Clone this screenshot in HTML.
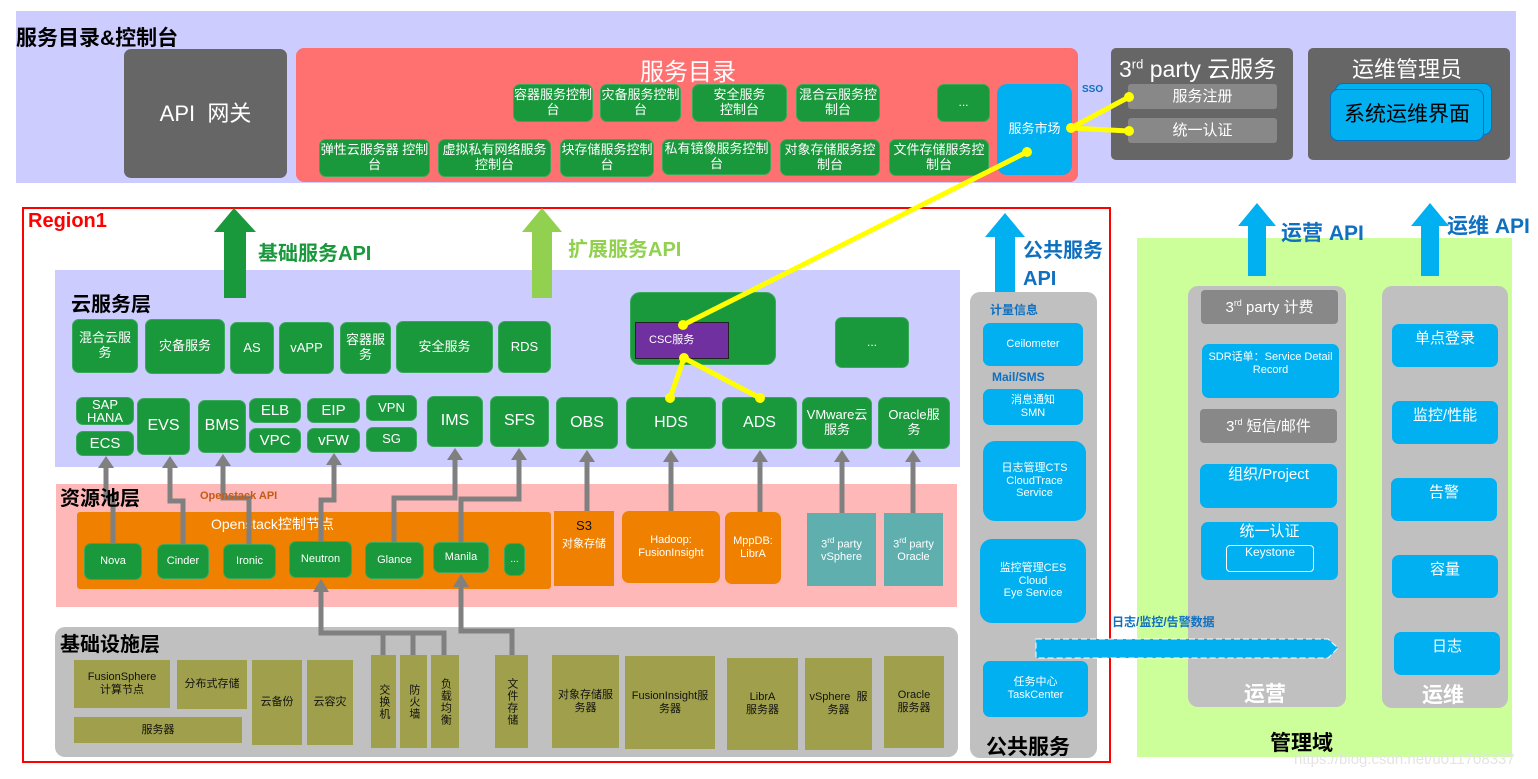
<!DOCTYPE html>
<html><head><meta charset="utf-8">
<style>
*{margin:0;padding:0;box-sizing:border-box}
body{width:1538px;height:779px;position:relative;background:#fff;font-family:"Liberation Sans","Noto Sans CJK SC",sans-serif;overflow:hidden}
div{position:absolute}
.b{display:flex;align-items:center;justify-content:center;text-align:center;color:#fff;border-radius:7px;line-height:1.15}
.g{background:#1a983c;border:1px solid #3aa85a}
.bl{background:#00b0f0}
.o{background:#f08000}
.t{background:#5fafaf;border-radius:0}
.ol{background:#a0a04c;color:#111;border-radius:0;font-size:11px}
.gr{background:#888}
.v{writing-mode:vertical-rl;letter-spacing:1px}
.h{font-weight:bold;color:#000;white-space:nowrap}
</style></head><body>
<!-- top band -->
<div style="left:16px;top:11px;width:1500px;height:172px;background:#ccccff"></div>
<div class="h" style="left:16px;top:22px;font-size:21px">服务目录&amp;控制台</div>
<div class="b" style="left:124px;top:49px;width:163px;height:129px;background:#666;font-size:22px">API&nbsp; 网关</div>
<div style="left:296px;top:48px;width:782px;height:134px;background:#ff7070;border-radius:8px"></div>
<div style="left:640px;top:52px;color:#fff;font-size:24px">服务目录</div>
<div class="b g" style="left:513px;top:84px;width:80px;height:38px;font-size:13px">容器服务控制台</div>
<div class="b g" style="left:600px;top:84px;width:81px;height:38px;font-size:13px">灾备服务控制台</div>
<div class="b g" style="left:692px;top:84px;width:95px;height:38px;font-size:13px">安全服务<br>控制台</div>
<div class="b g" style="left:796px;top:84px;width:84px;height:38px;font-size:13px">混合云服务控制台</div>
<div class="b g" style="left:937px;top:84px;width:53px;height:38px;font-size:12px">...</div>
<div class="b g" style="left:319px;top:139px;width:111px;height:38px;font-size:13px">弹性云服务器 控制台</div>
<div class="b g" style="left:438px;top:139px;width:113px;height:38px;font-size:13px">虚拟私有网络服务控制台</div>
<div class="b g" style="left:560px;top:139px;width:94px;height:38px;font-size:13px">块存储服务控制台</div>
<div class="b g" style="left:662px;top:139px;width:109px;height:36px;font-size:13px">私有镜像服务控制台</div>
<div class="b g" style="left:780px;top:139px;width:100px;height:37px;font-size:13px">对象存储服务控制台</div>
<div class="b g" style="left:889px;top:139px;width:100px;height:37px;font-size:13px">文件存储服务控制台</div>
<div class="b bl" style="left:997px;top:84px;width:75px;height:91px;font-size:13px;border-radius:10px">服务市场</div>
<div class="h" style="left:1082px;top:84px;font-size:10px;color:#1070c0">SSO</div>
<div style="left:1111px;top:48px;width:182px;height:112px;background:#666;border-radius:5px"></div>
<div style="left:1119px;top:50px;color:#fff;font-size:23px;white-space:nowrap">3<sup style="font-size:13px">rd</sup> party 云服务</div>
<div class="b gr" style="left:1128px;top:84px;width:149px;height:25px;font-size:15px;border-radius:3px">服务注册</div>
<div class="b gr" style="left:1128px;top:118px;width:149px;height:25px;font-size:15px;border-radius:3px">统一认证</div>
<div style="left:1308px;top:48px;width:202px;height:112px;background:#666;border-radius:5px"></div>
<div style="left:1352px;top:52px;color:#fff;font-size:22px">运维管理员</div>
<div class="bl" style="left:1335px;top:83px;width:157px;height:52px;border-radius:8px;border:1px solid #0070c0"></div>
<div class="b bl" style="left:1330px;top:89px;width:154px;height:52px;border-radius:8px;border:1px solid #0070c0;color:#000;font-size:21px">系统运维界面</div>

<!-- region1 -->
<div style="left:22px;top:207px;width:1089px;height:556px;border:2px solid #f00"></div>
<div class="h" style="left:28px;top:210px;font-size:20px;color:#f00">Region1</div>
<div class="h" style="left:258px;top:237px;font-size:20px;color:#1a983c">基础服务API</div>
<div class="h" style="left:568px;top:233px;font-size:20px;color:#92d050">扩展服务API</div>
<div class="h" style="left:1023px;top:237px;font-size:20px;color:#1070c0;line-height:28px">公共服务<br>API</div>

<!-- cloud service layer -->
<div style="left:55px;top:270px;width:905px;height:197px;background:#ccccff"></div>
<div class="h" style="left:71px;top:288px;font-size:20px">云服务层</div>
<div class="b g" style="left:72px;top:319px;width:66px;height:54px;font-size:13px">混合云服<br>务</div>
<div class="b g" style="left:145px;top:319px;width:80px;height:55px;font-size:13px">灾备服务</div>
<div class="b g" style="left:230px;top:322px;width:44px;height:52px;font-size:13px">AS</div>
<div class="b g" style="left:279px;top:322px;width:55px;height:52px;font-size:13px">vAPP</div>
<div class="b g" style="left:340px;top:322px;width:51px;height:52px;font-size:13px">容器服<br>务</div>
<div class="b g" style="left:396px;top:321px;width:97px;height:52px;font-size:13px">安全服务</div>
<div class="b g" style="left:498px;top:321px;width:53px;height:52px;font-size:13px">RDS</div>
<div class="b g" style="left:630px;top:292px;width:146px;height:73px;border-radius:10px"></div>
<div class="b" style="left:635px;top:322px;width:94px;height:37px;background:#7030a0;border:1px solid #222;border-radius:0;font-size:11px;justify-content:flex-start;padding-left:13px">CSC服务</div>
<div class="b g" style="left:835px;top:317px;width:74px;height:51px;font-size:12px">...</div>

<div class="b g" style="left:76px;top:397px;width:58px;height:28px;font-size:13px;line-height:1">SAP<br>HANA</div>
<div class="b g" style="left:76px;top:431px;width:58px;height:25px;font-size:15px">ECS</div>
<div class="b g" style="left:137px;top:398px;width:53px;height:57px;font-size:16px">EVS</div>
<div class="b g" style="left:198px;top:400px;width:48px;height:53px;font-size:16px">BMS</div>
<div class="b g" style="left:249px;top:398px;width:52px;height:25px;font-size:15px">ELB</div>
<div class="b g" style="left:249px;top:428px;width:52px;height:25px;font-size:15px">VPC</div>
<div class="b g" style="left:307px;top:398px;width:53px;height:25px;font-size:15px">EIP</div>
<div class="b g" style="left:307px;top:428px;width:53px;height:25px;font-size:15px">vFW</div>
<div class="b g" style="left:366px;top:395px;width:51px;height:26px;font-size:13px">VPN</div>
<div class="b g" style="left:366px;top:427px;width:51px;height:25px;font-size:13px">SG</div>
<div class="b g" style="left:427px;top:396px;width:56px;height:51px;font-size:16px">IMS</div>
<div class="b g" style="left:490px;top:396px;width:59px;height:51px;font-size:16px">SFS</div>
<div class="b g" style="left:556px;top:397px;width:62px;height:52px;font-size:16px">OBS</div>
<div class="b g" style="left:626px;top:397px;width:90px;height:52px;font-size:16px">HDS</div>
<div class="b g" style="left:722px;top:397px;width:75px;height:52px;font-size:16px">ADS</div>
<div class="b g" style="left:802px;top:397px;width:70px;height:52px;font-size:13px">VMware云<br>服务</div>
<div class="b g" style="left:878px;top:397px;width:72px;height:52px;font-size:13px">Oracle服<br>务</div>

<!-- resource pool -->
<div style="left:56px;top:484px;width:901px;height:123px;background:#ffb8b8"></div>
<div class="o" style="left:77px;top:512px;width:474px;height:77px;border-radius:3px"></div>
<div style="left:211px;top:514px;color:#fff;font-size:14px">Openstack控制节点</div>
<div class="b g" style="left:84px;top:543px;width:58px;height:37px;font-size:11px">Nova</div>
<div class="b g" style="left:157px;top:544px;width:52px;height:35px;font-size:11px">Cinder</div>
<div class="b g" style="left:223px;top:544px;width:53px;height:35px;font-size:11px">Ironic</div>
<div class="b g" style="left:289px;top:541px;width:63px;height:37px;font-size:11px">Neutron</div>
<div class="b g" style="left:365px;top:542px;width:59px;height:37px;font-size:11px">Glance</div>
<div class="b g" style="left:433px;top:542px;width:56px;height:31px;font-size:11px">Manila</div>
<div class="b g" style="left:504px;top:543px;width:21px;height:33px;font-size:10px">...</div>
<div class="b o" style="left:554px;top:511px;width:60px;height:75px;border-radius:0;font-size:11px;flex-direction:column;justify-content:flex-start;padding-top:8px"><span style="color:#111;font-size:13px">S3</span><span style="margin-top:4px">对象存储</span></div>
<div class="b o" style="left:622px;top:511px;width:98px;height:72px;font-size:11px">Hadoop:<br>FusionInsight</div>
<div class="b o" style="left:725px;top:512px;width:56px;height:72px;font-size:11px">MppDB:<br>LibrA</div>
<div class="b t" style="left:807px;top:513px;width:69px;height:73px;font-size:11px"><span>3<sup style="font-size:8px">rd</sup>&nbsp;party<br>vSphere</span></div>
<div class="b t" style="left:884px;top:513px;width:59px;height:73px;font-size:11px"><span>3<sup style="font-size:8px">rd</sup>&nbsp;party<br>Oracle</span></div>

<!-- infra -->
<div style="left:55px;top:627px;width:903px;height:130px;background:#c0c0c0;border-radius:10px"></div>
<div class="b ol" style="left:74px;top:660px;width:96px;height:48px">FusionSphere<br>计算节点</div>
<div class="b ol" style="left:177px;top:660px;width:70px;height:49px">分布式存储</div>
<div class="b ol" style="left:74px;top:717px;width:168px;height:26px">服务器</div>
<div class="b ol" style="left:252px;top:660px;width:50px;height:85px">云备份</div>
<div class="b ol" style="left:307px;top:660px;width:46px;height:85px">云容灾</div>
<div class="b ol" style="left:371px;top:655px;width:25px;height:93px"><span class="v">交换机</span></div>
<div class="b ol" style="left:400px;top:655px;width:27px;height:93px"><span class="v">防火墙</span></div>
<div class="b ol" style="left:431px;top:655px;width:28px;height:93px"><span class="v">负载均衡</span></div>
<div class="b ol" style="left:495px;top:655px;width:33px;height:93px"><span class="v">文件存储</span></div>
<div class="b ol" style="left:552px;top:655px;width:67px;height:93px">对象存储服<br>务器</div>
<div class="b ol" style="left:625px;top:656px;width:90px;height:93px">FusionInsight服<br>务器</div>
<div class="b ol" style="left:727px;top:658px;width:71px;height:92px">LibrA<br>服务器</div>
<div class="b ol" style="left:805px;top:658px;width:67px;height:92px">vSphere&nbsp;&nbsp;服<br>务器</div>
<div class="b ol" style="left:884px;top:656px;width:60px;height:92px">Oracle<br>服务器</div>

<!-- public service -->
<div style="left:970px;top:292px;width:127px;height:466px;background:#c0c0c0;border-radius:10px"></div>
<div class="h" style="left:990px;top:301px;font-size:12px;color:#1070c0">计量信息</div>
<div class="b bl" style="left:983px;top:323px;width:100px;height:43px;font-size:11px">Ceilometer</div>
<div class="h" style="left:992px;top:370px;font-size:12px;color:#1070c0">Mail/SMS</div>
<div class="b bl" style="left:983px;top:389px;width:100px;height:36px;font-size:11px">消息通知<br>SMN</div>
<div class="b bl" style="left:983px;top:441px;width:103px;height:80px;font-size:11px;border-radius:12px">日志管理CTS<br>CloudTrace<br>Service</div>
<div class="b bl" style="left:980px;top:539px;width:106px;height:84px;font-size:11px;border-radius:12px">监控管理CES<br>Cloud<br>Eye Service</div>
<div class="b bl" style="left:983px;top:661px;width:105px;height:56px;font-size:11px">任务中心<br>TaskCenter</div>
<div class="h" style="left:986px;top:731px;font-size:21px">公共服务</div>

<!-- management -->
<div style="left:1137px;top:238px;width:375px;height:519px;background:#ccff99"></div>
<div class="h" style="left:1281px;top:217px;font-size:21px;color:#1070c0">运营 API</div>
<div class="h" style="left:1447px;top:210px;font-size:21px;color:#1070c0">运维 API</div>
<div style="left:1188px;top:286px;width:158px;height:421px;background:#c0c0c0;border-radius:10px"></div>
<div class="b gr" style="left:1201px;top:290px;width:137px;height:34px;font-size:15px;border-radius:4px"><span>3<sup style="font-size:9px">rd</sup>&nbsp;party 计费</span></div>
<div class="b bl" style="left:1202px;top:344px;width:137px;height:54px;font-size:11px;align-items:flex-start;padding-top:7px">SDR话单：Service Detail<br>Record</div>
<div class="b gr" style="left:1200px;top:409px;width:137px;height:34px;font-size:15px;border-radius:4px"><span>3<sup style="font-size:9px">rd</sup>&nbsp;短信/邮件</span></div>
<div class="b bl" style="left:1200px;top:464px;width:137px;height:44px;font-size:15px;align-items:flex-start;padding-top:2px">组织/Project</div>
<div class="b bl" style="left:1201px;top:522px;width:137px;height:58px;font-size:15px;align-items:flex-start;padding-top:1px">统一认证</div>
<div class="b" style="left:1226px;top:545px;width:88px;height:27px;border:1.5px solid #fff;border-radius:4px;font-size:12px;align-items:flex-start">Keystone</div>
<div class="h" style="left:1244px;top:678px;font-size:21px;color:#fff">运营</div>
<div style="left:1382px;top:286px;width:126px;height:422px;background:#c0c0c0;border-radius:10px"></div>
<div class="b bl" style="left:1392px;top:324px;width:106px;height:43px;font-size:15px;align-items:flex-start;padding-top:6px">单点登录</div>
<div class="b bl" style="left:1392px;top:401px;width:106px;height:43px;font-size:15px;align-items:flex-start;padding-top:6px">监控/性能</div>
<div class="b bl" style="left:1391px;top:478px;width:106px;height:43px;font-size:15px;align-items:flex-start;padding-top:6px">告警</div>
<div class="b bl" style="left:1392px;top:555px;width:106px;height:43px;font-size:15px;align-items:flex-start;padding-top:6px">容量</div>
<div class="b bl" style="left:1394px;top:632px;width:106px;height:43px;font-size:15px;align-items:flex-start;padding-top:6px">日志</div>
<div class="h" style="left:1422px;top:679px;font-size:21px;color:#fff">运维</div>
<div class="h" style="left:1270px;top:727px;font-size:21px">管理域</div>
<div class="h" style="left:1112px;top:613px;font-size:12px;color:#1070c0">日志/监控/告警数据</div>
<div style="left:1294px;top:751px;font-size:15px;color:#e4e4e4;font-weight:normal;white-space:nowrap">https://blog.csdn.net/u011708337</div>

<svg width="1538" height="779" style="position:absolute;left:0;top:0" xmlns="http://www.w3.org/2000/svg">
<polygon points="234,208 214,232 224,232 224,298 246,298 246,232 256,232" fill="#1a983c"/>
<polygon points="542,208 522,232 532,232 532,298 552,298 552,232 562,232" fill="#92d050"/>
<polygon points="1005,213 985,237 995,237 995,292 1015,292 1015,237 1025,237" fill="#00b0f0"/>
<polygon points="1257,203 1238,226 1248,226 1248,276 1266,276 1266,226 1276,226" fill="#00b0f0"/>
<polygon points="1430,203 1411,226 1421,226 1421,276 1439,276 1439,226 1449,226" fill="#00b0f0"/>
<polygon points="1036,639 1328,639 1338,648 1328,658 1036,658" fill="#00b0f0" stroke="#fff" stroke-dasharray="6,3" stroke-width="1"/>
<g fill="none" stroke="#808080" stroke-width="5">
<polyline points="113,543 113,498 106,498 106,466"/>
<polyline points="183,544 183,501 170,501 170,466"/>
<polyline points="249,544 249,498 223,498 223,464"/>
<polyline points="321,541 321,500 334,500 334,463"/>
<polyline points="394,542 394,498 455,498 455,458"/>
<polyline points="461,542 461,499 519,499 519,458"/>
<line x1="587" y1="511" x2="587" y2="460"/>
<line x1="671" y1="511" x2="671" y2="460"/>
<line x1="760" y1="512" x2="760" y2="460"/>
<line x1="842" y1="513" x2="842" y2="460"/>
<line x1="913" y1="513" x2="913" y2="460"/>
<polyline points="383,655 383,633 321,633 321,590"/>
<polyline points="413,655 413,633"/>
<polyline points="444,655 444,633 383,633"/>
<polyline points="512,655 512,631 461,631 461,585"/>
</g>
<g fill="#808080">
<polygon points="106,456 98,468 114,468"/>
<polygon points="170,456 162,468 178,468"/>
<polygon points="223,454 215,466 231,466"/>
<polygon points="334,453 326,465 342,465"/>
<polygon points="455,448 447,460 463,460"/>
<polygon points="519,448 511,460 527,460"/>
<polygon points="587,450 579,462 595,462"/>
<polygon points="671,450 663,462 679,462"/>
<polygon points="760,450 752,462 768,462"/>
<polygon points="842,450 834,462 850,462"/>
<polygon points="913,450 905,462 921,462"/>
<polygon points="321,579 313,592 329,592"/>
<polygon points="461,574 453,587 469,587"/>
</g>
<text x="200" y="499" font-family="Liberation Sans, sans-serif" font-size="11" font-weight="bold" fill="#c55a11">Openstack API</text>
<g stroke="#ffff00" stroke-width="5" fill="none">
<line x1="1071" y1="128" x2="1129" y2="97"/>
<line x1="1071" y1="128" x2="1129" y2="131"/>
<line x1="1027" y1="152" x2="683" y2="325"/>
<line x1="684" y1="358" x2="670" y2="398"/>
<line x1="684" y1="358" x2="760" y2="398"/>
</g>
<g fill="#ffff00">
<circle cx="1071" cy="128" r="5"/><circle cx="1129" cy="97" r="5"/><circle cx="1129" cy="131" r="5"/>
<circle cx="1027" cy="152" r="5"/><circle cx="683" cy="325" r="5"/><circle cx="684" cy="358" r="5"/>
<circle cx="670" cy="398" r="5"/><circle cx="760" cy="398" r="5"/>
</g>
</svg>
<div class="h" style="left:60px;top:482px;font-size:20px">资源池层</div>
<div class="h" style="left:60px;top:628px;font-size:20px">基础设施层</div>
</body></html>
